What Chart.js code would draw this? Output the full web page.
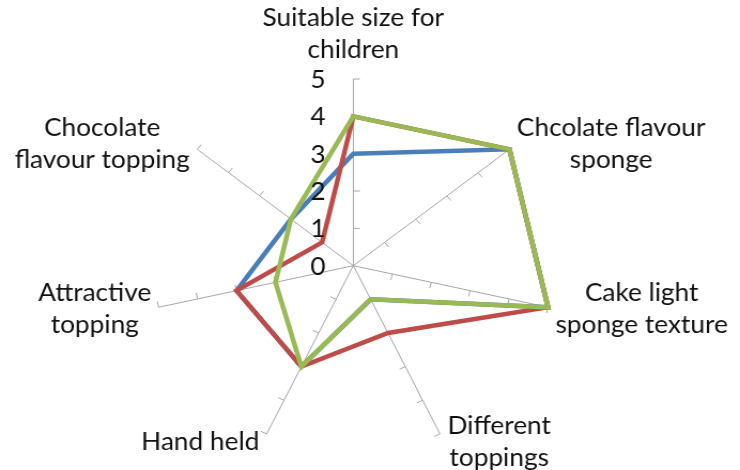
<!DOCTYPE html>
<html><head><meta charset="utf-8">
<script src="https://cdn.jsdelivr.net/npm/chart.js@4/dist/chart.umd.min.js"></script>
<style>
html,body{margin:0;padding:0;background:#fff;overflow:hidden;}
#wrap{width:692px;height:470px;transform:scaleX(1.0694);transform-origin:0 0;}
canvas{display:block;}
</style></head><body>
<div id="wrap"><canvas id="c" width="692" height="470"></canvas></div>
<script>
// ---- data ----
const categories = [
  ["Suitable size for", "children"],
  ["Chcolate flavour", "sponge"],
  ["Cake light", "sponge texture"],
  ["Different", "toppings"],
  ["Hand held"],
  ["Attractive", "topping"],
  ["Chocolate", "flavour topping"]
];
const tickValues = [0, 1, 2, 3, 4, 5];
const blueSeries  = [3, 5, 5, 1, 3, 3, 2];
const redSeries   = [4, 5, 5, 2, 3, 3, 1];
const greenSeries = [4, 5, 5, 1, 3, 2, 2];

// ---- styles / layout ----
const FONT = 'Lato, "Open Sans", sans-serif';
const FS = 24.5, LH = 32;
const AXIS_COLOR = '#A6A6A6';
const TEXT = '#111';
const TICK_LEN = 6;
const CENTER_X = 330.4, CENTER_Y = 265.7, RADIUS = 186.7;

const overlay = {
  id: 'overlay',
  beforeDatasetsDraw(chart) {
    const s = chart.scales.r, ctx = chart.ctx;
    const n = chart.data.labels.length;
    ctx.save();
    ctx.strokeStyle = AXIS_COLOR; ctx.lineWidth = 1;
    for (let i = 0; i < n; i++) {
      for (const t of s.ticks) {
        if (t.value <= 0) continue;
        const p = s.getPointPositionForValue(i, t.value);
        const dx = -Math.sin(p.angle), dy = Math.cos(p.angle);
        ctx.beginPath();
        ctx.moveTo(p.x, p.y);
        ctx.lineTo(p.x + dx * TICK_LEN, p.y + dy * TICK_LEN);
        ctx.stroke();
      }
    }
    ctx.restore();
  },
  afterDraw(chart) {
    const s = chart.scales.r, ctx = chart.ctx;
    const n = chart.data.labels.length;
    ctx.save();
    ctx.font = FS + 'px ' + FONT;
    ctx.fillStyle = TEXT;
    ctx.textBaseline = 'middle';
    ctx.textAlign = 'center';
    chart.data.labels.forEach((lines, i) => {
      const p = s.getPointPosition(i, s.drawingArea);
      const theta = i * 2 * Math.PI / n;
      const h = lines.length * LH;
      const w = Math.max(...lines.map(l => ctx.measureText(l).width));
      let bx, by;
      if (Math.abs(Math.sin(theta)) < 1e-6) {
        bx = p.x; by = p.y - 44.5;
      } else {
        by = p.y - 9 * Math.cos(theta);
        bx = Math.sin(theta) > 0 ? p.x + 7 + w / 2 : p.x - 7 - w / 2;
      }
      lines.forEach((l, k) => ctx.fillText(l, bx, by - h / 2 + LH * (k + 0.5)));
    });
    ctx.textAlign = 'right';
    s.ticks.forEach(t => {
      const p = s.getPointPositionForValue(0, t.value);
      ctx.fillText(String(t.value), p.x - 26, p.y + 1);
    });
    ctx.restore();
  }
};

new Chart(document.getElementById('c'), {
  type: 'radar',
  data: {
    labels: categories,
    datasets: [
      { label: 'Series1', data: blueSeries,  borderColor: '#4A7EBB', order: 3 },
      { label: 'Series2', data: redSeries,   borderColor: '#BE4B48', order: 2 },
      { label: 'Series3', data: greenSeries, borderColor: '#98B954', order: 1 }
    ]
  },
  options: {
    responsive: false,
    animation: false,
    layout: { padding: 0 },
    elements: {
      line: { borderWidth: 4.5, fill: false, tension: 0, borderJoinStyle: 'miter' },
      point: { radius: 0, hoverRadius: 0 }
    },
    plugins: { legend: { display: false }, tooltip: { enabled: false } },
    scales: {
      r: {
        min: 0, max: 5,
        startAngle: 0,
        grid: { display: false },
        angleLines: { display: true, color: AXIS_COLOR, lineWidth: 1 },
        pointLabels: { display: false },
        ticks: { display: false, stepSize: 1 },
        afterBuildTicks: (scale) => { scale.ticks = tickValues.map(v => ({ value: v })); },
        afterFit: (scale) => {
          scale.xCenter = CENTER_X; scale.yCenter = CENTER_Y; scale.drawingArea = RADIUS;
        }
      }
    }
  },
  plugins: [overlay]
});
</script>
</body></html>
